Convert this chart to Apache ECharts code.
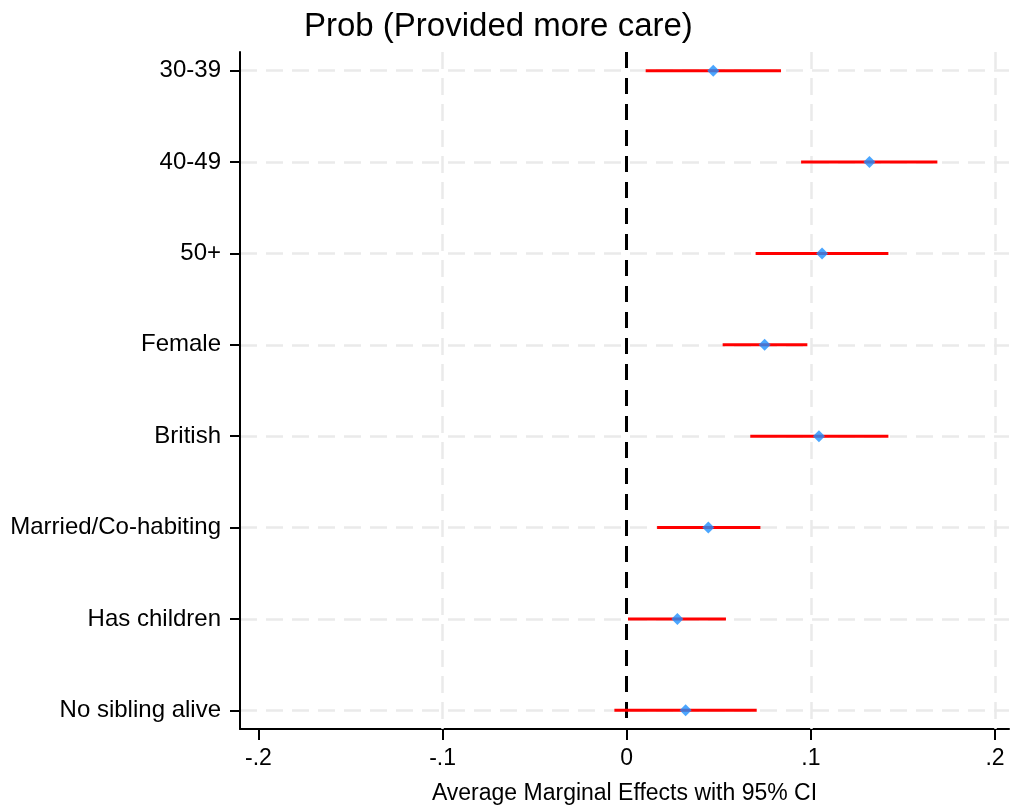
<!DOCTYPE html>
<html>
<head>
<meta charset="utf-8">
<script src="https://cdn.jsdelivr.net/npm/echarts@6/dist/echarts.min.js"></script>
<style>
  html, body { margin: 0; padding: 0; background: #fff; }
  #chart { width: 1011px; height: 812px; }
</style>
</head>
<body>
<div id="chart"></div>
<script>
    // categories, top to bottom
    var categories = ['30-39', '40-49', '50+', 'Female', 'British', 'Married/Co-habiting', 'Has children', 'No sibling alive'];
    // average marginal effects and 95% CI
    var estimates = [0.0470, 0.1318, 0.1061, 0.0749, 0.1044, 0.0443, 0.0275, 0.0320];
    var ciLow = [0.0103, 0.0947, 0.0700, 0.0521, 0.0671, 0.0165, 0.0007, -0.0067];
    var ciHigh = [0.0838, 0.1687, 0.1421, 0.0981, 0.1421, 0.0726, 0.0539, 0.0706];
    var xTicks = [-0.2, -0.1, 0, 0.1, 0.2];
    var xGridValues = [-0.1, 0.1, 0.2];

    var font = 'Liberation Sans, Arial, sans-serif';
    var yPos = categories.map(function (c, i) { return i + 1; });

    var ciData = categories.map(function (c, i) { return [ciLow[i], ciHigh[i], i + 1]; });
    var pointData = categories.map(function (c, i) { return [estimates[i], i + 1]; });

    function fmtX(v) {
        if (v === 0) return '0';
        var s = String(Math.abs(Math.round(v * 10) / 10)).replace(/^0/, '');
        return (v < 0 ? '-' : '') + s;
    }

    var myChart = echarts.init(document.getElementById('chart'));
    var option = {
        backgroundColor: '#fff',
        animation: false,
        title: {
            text: 'Prob (Provided more care)',
            left: 299,
            top: 5,
            textStyle: { fontFamily: font, fontSize: 33, fontWeight: 'normal', color: '#000' }
        },
        grid: { left: 240, right: 2, top: 52, bottom: 83, outerBoundsMode: 'none', containLabel: false },
        xAxis: {
            type: 'value',
            min: -0.21,
            max: 0.2076,
            name: 'Average Marginal Effects with 95% CI',
            nameLocation: 'middle',
            nameGap: 53,
            nameTextStyle: { fontFamily: font, fontSize: 23, color: '#000' },
            axisLine: { show: true, onZero: false, lineStyle: { color: '#000', width: 2 } },
            axisTick: { show: true, length: 11, customValues: xTicks, lineStyle: { color: '#000', width: 2 } },
            axisLabel: { customValues: xTicks, formatter: fmtX, margin: 18, fontFamily: font, fontSize: 23, color: '#000' },
            splitLine: { show: false }
        },
        yAxis: {
            type: 'value',
            inverse: true,
            min: 0.795,
            max: 8.205,
            axisLine: { show: true, onZero: false, lineStyle: { color: '#000', width: 2 } },
            axisTick: { show: true, length: 10, customValues: yPos, lineStyle: { color: '#000', width: 2 } },
            axisLabel: {
                customValues: yPos,
                formatter: function (v) { return categories[Math.round(v) - 1] || ''; },
                margin: 19, fontFamily: font, fontSize: 24, color: '#000'
            },
            splitLine: { show: true, lineStyle: { color: '#eaeaea', width: 2.5, type: [17, 9] } }
        },
        series: [
            {
                // vertical grid lines and reference line at 0
                type: 'scatter',
                data: [],
                silent: true,
                z: 1,
                markLine: {
                    silent: true,
                    z: 1,
                    symbol: 'none',
                    label: { show: false },
                    data: xGridValues.map(function (v) {
                        return { xAxis: v, lineStyle: { color: '#eaeaea', width: 2.5, type: [17, 9] } };
                    }).concat([{ xAxis: 0, lineStyle: { color: '#000', width: 3, type: [16, 10] } }])
                }
            },
            {
                type: 'custom',
                data: ciData,
                encode: { x: [0, 1], y: 2 },
                renderItem: function (params, api) {
                    var a = api.coord([api.value(0), api.value(2)]);
                    var b = api.coord([api.value(1), api.value(2)]);
                    return {
                        type: 'line',
                        shape: { x1: a[0], y1: a[1], x2: b[0], y2: b[1] },
                        style: { stroke: '#ff0000', lineWidth: 3 }
                    };
                },
                z: 3
            },
            {
                type: 'scatter',
                data: pointData,
                symbol: 'diamond',
                symbolSize: 12,
                itemStyle: { color: '#1e90ff' },
                z: 4
            }
        ]
    };
    myChart.setOption(option);
</script>
</body>
</html>
